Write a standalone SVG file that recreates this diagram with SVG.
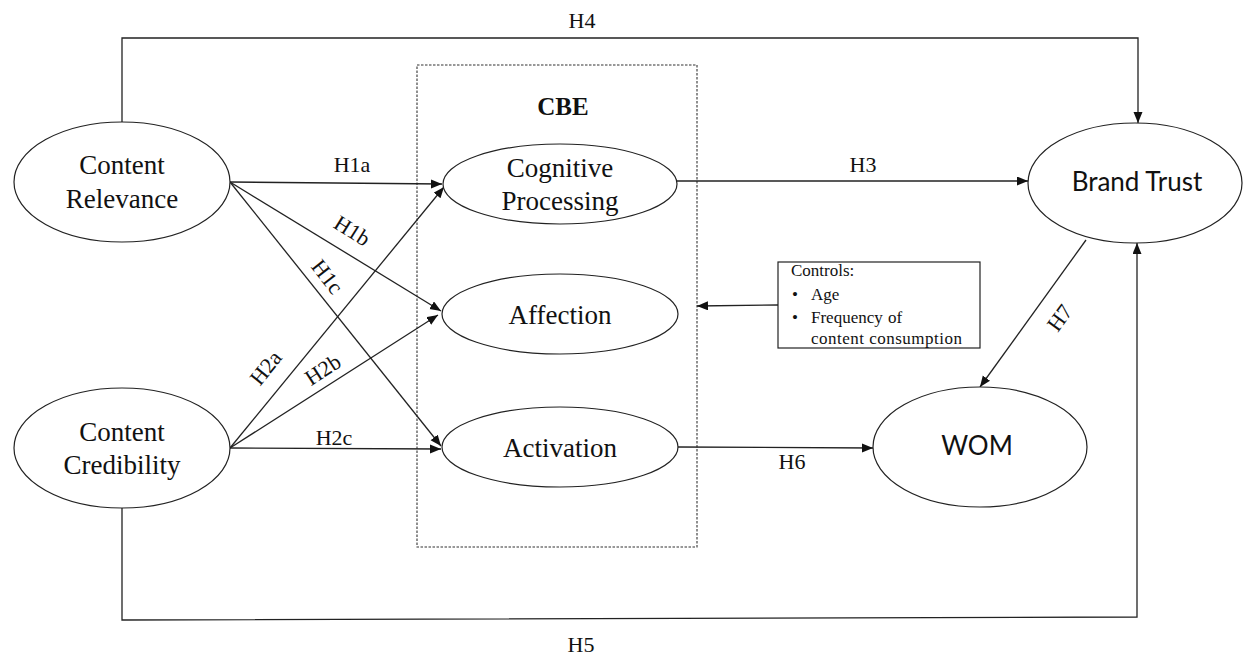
<svg xmlns="http://www.w3.org/2000/svg" width="1243" height="660" viewBox="0 0 1243 660">
<style>
.node{fill:#fff;stroke:#222;stroke-width:1.2}
.serif{font-family:"Liberation Serif","Times New Roman",serif;fill:#111}
.sans{font-family:Lato,"Liberation Sans",sans-serif;fill:#111}
.nt{font-size:27px;text-anchor:middle}
.lb{font-size:22px;text-anchor:middle}
.ln{fill:none;stroke:#222;stroke-width:1.3}
.ct{font-size:17px}
</style>
<defs>
<marker id="ah" markerUnits="userSpaceOnUse" markerWidth="12" markerHeight="10" refX="11" refY="4.5" orient="auto">
<path d="M0,0 L11,4.5 L0,9 z" fill="#111"/>
</marker>
</defs>
<rect width="1243" height="660" fill="#fff"/>

<g id="cbe-box">
<rect x="417" y="65" width="280" height="482" fill="none" stroke="#333" stroke-width="1.1" stroke-dasharray="2.5,1.5"/>
<text class="serif" x="563" y="115" font-size="25" font-weight="bold" text-anchor="middle">CBE</text>
</g>

<g id="connectors">
<polyline class="ln" points="122,122 122,38 1138,38 1138,123" marker-end="url(#ah)"/>
<polyline class="ln" points="122,508 122,620 1137,617 1137,243" marker-end="url(#ah)"/>
<line class="ln" x1="230" y1="182" x2="442" y2="184" marker-end="url(#ah)"/>
<line class="ln" x1="230" y1="182" x2="441" y2="311" marker-end="url(#ah)"/>
<line class="ln" x1="230" y1="182" x2="441" y2="446" marker-end="url(#ah)"/>
<line class="ln" x1="230" y1="448" x2="444" y2="187" marker-end="url(#ah)"/>
<line class="ln" x1="230" y1="448" x2="438" y2="315" marker-end="url(#ah)"/>
<line class="ln" x1="230" y1="448" x2="441" y2="449" marker-end="url(#ah)"/>
<line class="ln" x1="677" y1="181" x2="1028" y2="181" marker-end="url(#ah)"/>
<line class="ln" x1="677" y1="447" x2="873" y2="448" marker-end="url(#ah)"/>
<line class="ln" x1="1086" y1="240" x2="980" y2="387" marker-end="url(#ah)"/>
<line class="ln" x1="778" y1="305" x2="697" y2="306" marker-end="url(#ah)"/>
<text class="serif lb" x="582" y="28">H4</text>
<text class="serif lb" x="581" y="652">H5</text>
<text class="serif lb" x="352" y="172">H1a</text>
<text class="serif lb" transform="translate(352,231) rotate(32)" y="7">H1b</text>
<text class="serif lb" transform="translate(327,277) rotate(52)" y="7">H1c</text>
<text class="serif lb" transform="translate(266,368) rotate(-51)" y="7">H2a</text>
<text class="serif lb" transform="translate(323,370) rotate(-33)" y="7">H2b</text>
<text class="serif lb" x="334" y="445">H2c</text>
<text class="serif lb" x="863" y="172">H3</text>
<text class="serif lb" x="792" y="469">H6</text>
<text class="serif lb" transform="translate(1060,318) rotate(-54)" y="7">H7</text>
</g>

<g id="content-relevance">
<ellipse class="node" cx="122" cy="182" rx="108" ry="60"/>
<text class="serif nt" x="122" y="174">Content</text>
<text class="serif nt" x="122" y="208">Relevance</text>
</g>

<g id="content-credibility">
<ellipse class="node" cx="122" cy="448" rx="108" ry="60"/>
<text class="serif nt" x="122" y="441">Content</text>
<text class="serif nt" x="122" y="474">Credibility</text>
</g>

<g id="cognitive-processing">
<ellipse class="node" cx="560" cy="184" rx="117" ry="40"/>
<text class="serif nt" x="560" y="177">Cognitive</text>
<text class="serif nt" x="560" y="210">Processing</text>
</g>

<g id="affection">
<ellipse class="node" cx="560" cy="314" rx="118" ry="40"/>
<text class="serif nt" x="560" y="324">Affection</text>
</g>

<g id="activation">
<ellipse class="node" cx="560" cy="447" rx="118" ry="40"/>
<text class="serif nt" x="560" y="457">Activation</text>
</g>

<g id="brand-trust">
<ellipse class="node" cx="1135" cy="183" rx="107" ry="60"/>
<text class="sans" x="1137" y="191" font-size="26" text-anchor="middle">Brand Trust</text>
</g>

<g id="wom">
<ellipse class="node" cx="980" cy="447" rx="107" ry="60"/>
<text class="sans" x="977" y="455" font-size="26" text-anchor="middle">WOM</text>
</g>

<g id="controls">
<rect x="778" y="262" width="202" height="86" fill="#fff" stroke="#222" stroke-width="1.2"/>
<text class="serif ct" x="791" y="276">Controls:</text>
<text class="serif ct" x="792" y="300">•</text>
<text class="serif ct" x="811" y="300">Age</text>
<text class="serif ct" x="792" y="323">•</text>
<text class="serif ct" x="811" y="323">Frequency</text>
<text class="serif ct" x="888" y="323">of</text>
<text class="serif ct" x="811" y="344" textLength="151" lengthAdjust="spacing">content consumption</text>
</g>
</svg>
